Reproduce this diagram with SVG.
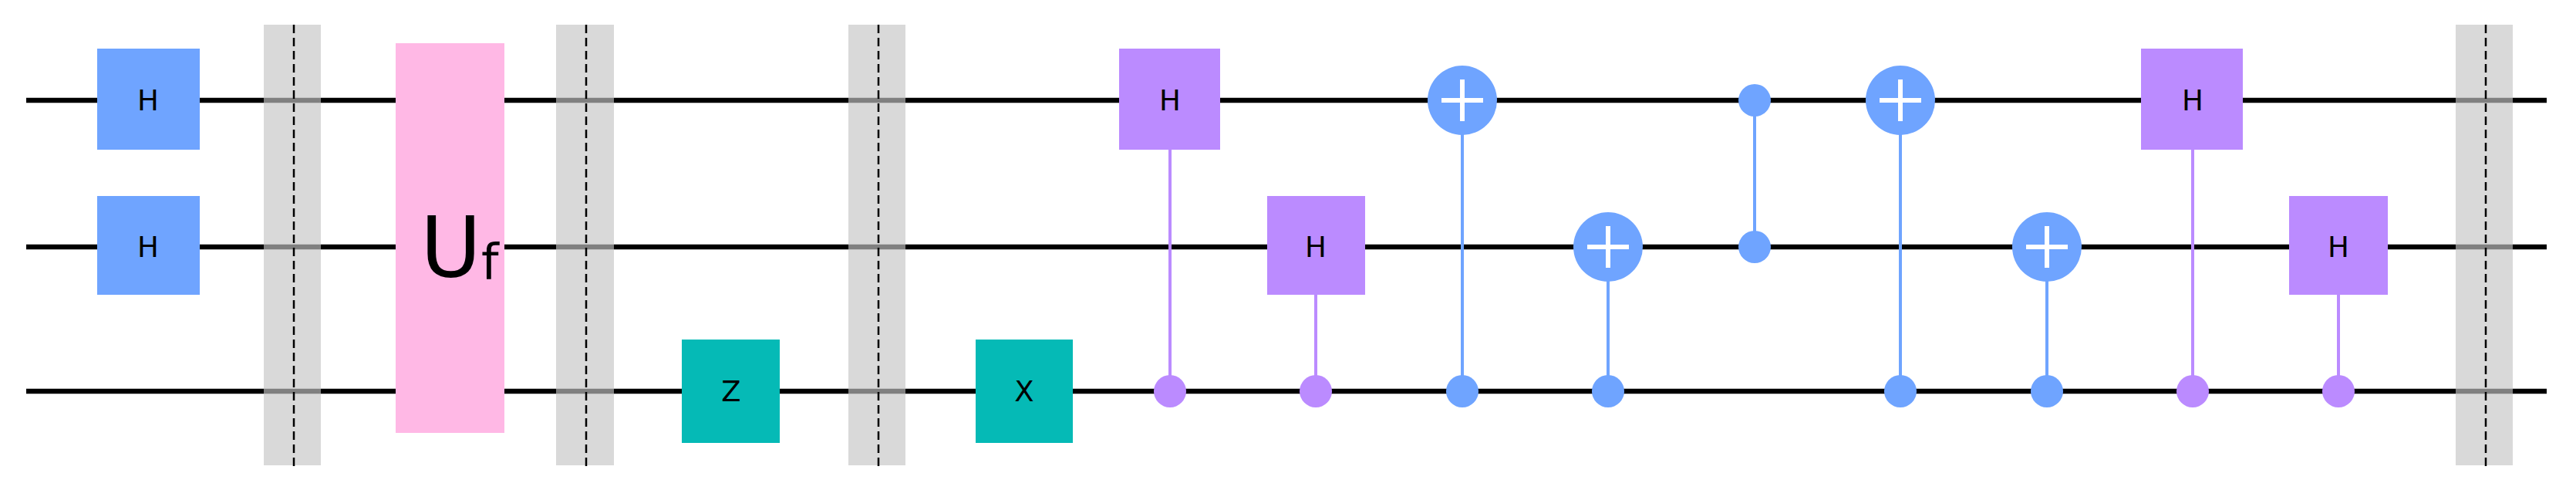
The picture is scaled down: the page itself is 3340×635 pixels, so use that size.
<svg xmlns="http://www.w3.org/2000/svg" width="3340" height="635" viewBox="0 0 3340 635">
<style>
.wire{stroke:#000;stroke-width:6.5}
.bar{fill:#c4c4c4;fill-opacity:0.65}
.dash{stroke:#000;stroke-width:2.5;stroke-dasharray:11 6}
.h{fill:#6fa4ff}
.p{fill:#bb8bff}
.t{fill:#05bab6}
.u{fill:#ffb8e5}
.lbl{font-family:"DejaVu Sans",sans-serif;font-size:37px;fill:#000;text-anchor:middle;dominant-baseline:central}
.cb{stroke:#6fa4ff;stroke-width:4}
.cp{stroke:#bb8bff;stroke-width:4}
.plus{stroke:#fff;stroke-width:6}
</style>
<rect width="3340" height="635" fill="#fff"/>
<g id="wires">
<line class="wire" x1="34" y1="130" x2="3302" y2="130"/>
<line class="wire" x1="34" y1="320" x2="3302" y2="320"/>
<line class="wire" x1="34" y1="507" x2="3302" y2="507"/>
</g>
<g id="connectors">
<line class="cp" x1="1517" y1="194" x2="1517" y2="507"/>
<line class="cp" x1="1706" y1="382" x2="1706" y2="507"/>
<line class="cb" x1="1896" y1="130" x2="1896" y2="507"/>
<line class="cb" x1="2085" y1="320" x2="2085" y2="507"/>
<line class="cb" x1="2275" y1="130" x2="2275" y2="320"/>
<line class="cb" x1="2464" y1="130" x2="2464" y2="507"/>
<line class="cb" x1="2654" y1="320" x2="2654" y2="507"/>
<line class="cp" x1="2843" y1="194" x2="2843" y2="507"/>
<line class="cp" x1="3032" y1="382" x2="3032" y2="507"/>
</g>
<g id="h1"><rect class="h" x="126" y="63" width="133" height="131"/><text class="lbl" x="192" y="130">H</text></g>
<g id="h2"><rect class="h" x="126" y="254" width="133" height="128"/><text class="lbl" x="192" y="320">H</text></g>
<g id="barrier1"><rect class="bar" x="342" y="32" width="74" height="571"/><line class="dash" x1="381" y1="32" x2="381" y2="607"/></g>
<g id="uf"><rect class="u" x="513" y="56" width="141" height="505"/><text font-family="DejaVu Sans,sans-serif" font-size="108" x="545" y="320" dominant-baseline="central">U<tspan font-size="64" dy="20">f</tspan></text></g>
<g id="barrier2"><rect class="bar" x="721" y="32" width="75" height="571"/><line class="dash" x1="760" y1="32" x2="760" y2="607"/></g>
<g id="z"><rect class="t" x="884" y="440" width="127" height="134"/><text class="lbl" x="948" y="507">Z</text></g>
<g id="barrier3"><rect class="bar" x="1100" y="32" width="74" height="571"/><line class="dash" x1="1139" y1="32" x2="1139" y2="607"/></g>
<g id="x"><rect class="t" x="1265" y="440" width="126" height="134"/><text class="lbl" x="1328" y="507">X</text></g>
<g id="ch1"><rect class="p" x="1451" y="63" width="131" height="131"/><text class="lbl" x="1517" y="130">H</text><circle class="p" cx="1517" cy="507" r="21"/></g>
<g id="ch2"><rect class="p" x="1643" y="254" width="127" height="128"/><text class="lbl" x="1706" y="320">H</text><circle class="p" cx="1706" cy="507" r="21"/></g>
<g id="cx1"><circle class="h" cx="1896" cy="130" r="45"/><line class="plus" x1="1869" y1="130" x2="1923" y2="130"/><line class="plus" x1="1896" y1="103" x2="1896" y2="157"/><circle class="h" cx="1896" cy="507" r="21"/></g>
<g id="cx2"><circle class="h" cx="2085" cy="320" r="45"/><line class="plus" x1="2058" y1="320" x2="2112" y2="320"/><line class="plus" x1="2085" y1="293" x2="2085" y2="347"/><circle class="h" cx="2085" cy="507" r="21"/></g>
<g id="cz"><circle class="h" cx="2275" cy="130" r="21"/><circle class="h" cx="2275" cy="320" r="21"/></g>
<g id="cx3"><circle class="h" cx="2464" cy="130" r="45"/><line class="plus" x1="2437" y1="130" x2="2491" y2="130"/><line class="plus" x1="2464" y1="103" x2="2464" y2="157"/><circle class="h" cx="2464" cy="507" r="21"/></g>
<g id="cx4"><circle class="h" cx="2654" cy="320" r="45"/><line class="plus" x1="2627" y1="320" x2="2681" y2="320"/><line class="plus" x1="2654" y1="293" x2="2654" y2="347"/><circle class="h" cx="2654" cy="507" r="21"/></g>
<g id="ch3"><rect class="p" x="2776" y="63" width="132" height="131"/><text class="lbl" x="2843" y="130">H</text><circle class="p" cx="2843" cy="507" r="21"/></g>
<g id="ch4"><rect class="p" x="2968" y="254" width="128" height="128"/><text class="lbl" x="3032" y="320">H</text><circle class="p" cx="3032" cy="507" r="21"/></g>
<g id="barrier4"><rect class="bar" x="3184" y="32" width="74" height="571"/><line class="dash" x1="3223" y1="32" x2="3223" y2="607"/></g>
</svg>
